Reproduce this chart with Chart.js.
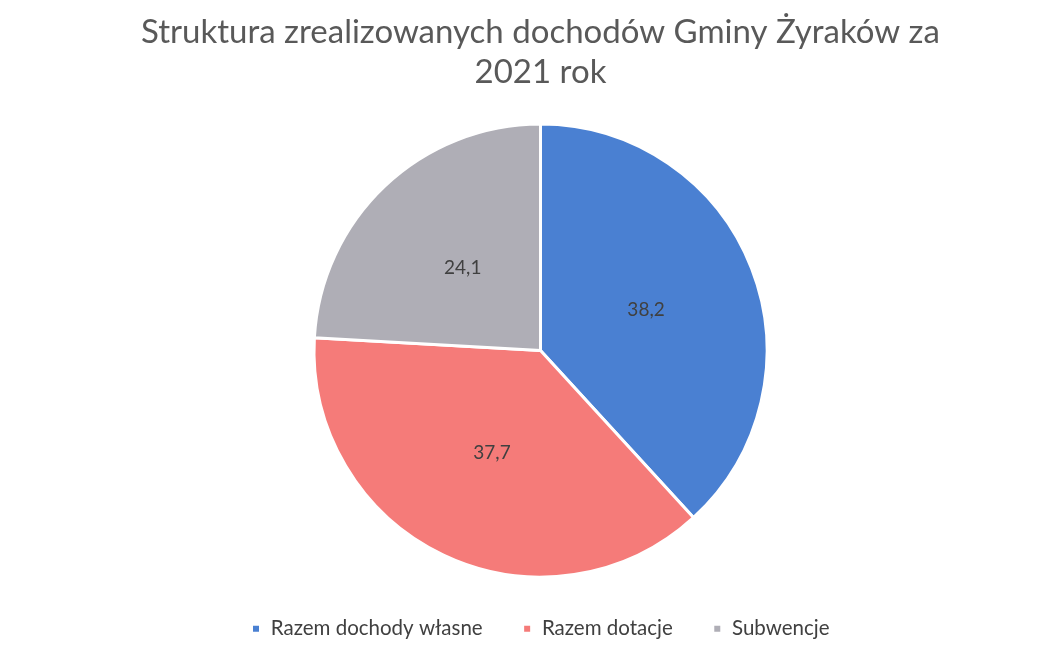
<!DOCTYPE html>
<html>
<head>
<meta charset="utf-8">
<script src="https://cdn.jsdelivr.net/npm/chart.js@4"></script>
<style>
  html, body { margin: 0; padding: 0; background: #fff; }
  #wrap { width: 1055px; height: 659px; }
</style>
</head>
<body>
<div id="wrap"><canvas id="pieChart"></canvas></div>
<script>
const categories = ['Razem dochody własne', 'Razem dotacje', 'Subwencje'];
const shares = [38.2, 37.7, 24.1];
const sliceColors = ['#4a80d2', '#f57b79', '#afaeb6'];

// draw the values in the middle of each slice, with a comma as decimal mark
const sliceLabels = {
    id: 'sliceLabels',
    afterDatasetsDraw(chart) {
        const ctx = chart.ctx;
        const meta = chart.getDatasetMeta(0);
        ctx.save();
        ctx.font = '19px Lato, "Open Sans", sans-serif';
        ctx.fillStyle = '#404040';
        ctx.textAlign = 'center';
        ctx.textBaseline = 'middle';
        meta.data.forEach((arc, i) => {
            const pos = arc.tooltipPosition();
            ctx.fillText(shares[i].toFixed(1).replace('.', ','), pos.x, pos.y);
        });
        ctx.restore();
    }
};

const ctxPie = document.getElementById('pieChart').getContext('2d');
new Chart(ctxPie, {
    type: 'pie',
    data: {
        labels: categories,
        datasets: [{
            data: shares,
            backgroundColor: sliceColors,
            borderColor: '#ffffff',
            borderWidth: 3
        }]
    },
    options: {
        responsive: true,
        maintainAspectRatio: false,
        animation: false,
        layout: {
            padding: { top: 8, bottom: 10, left: 26 }
        },
        plugins: {
            title: {
                display: true,
                text: ['Struktura zrealizowanych dochodów Gminy Żyraków za', '2021 rok'],
                color: '#595959',
                font: { family: 'Lato, "Open Sans", sans-serif', size: 33, weight: 'normal', lineHeight: 1.22 },
                padding: { top: 4, bottom: 30 }
            },
            legend: {
                position: 'bottom',
                labels: {
                    color: '#404040',
                    font: { family: 'Lato, "Open Sans", sans-serif', size: 20.5 },
                    boxWidth: 9,
                    boxHeight: 9,
                    padding: 40
                }
            },
            tooltip: { enabled: false }
        }
    },
    plugins: [sliceLabels]
});
</script>
</body>
</html>
